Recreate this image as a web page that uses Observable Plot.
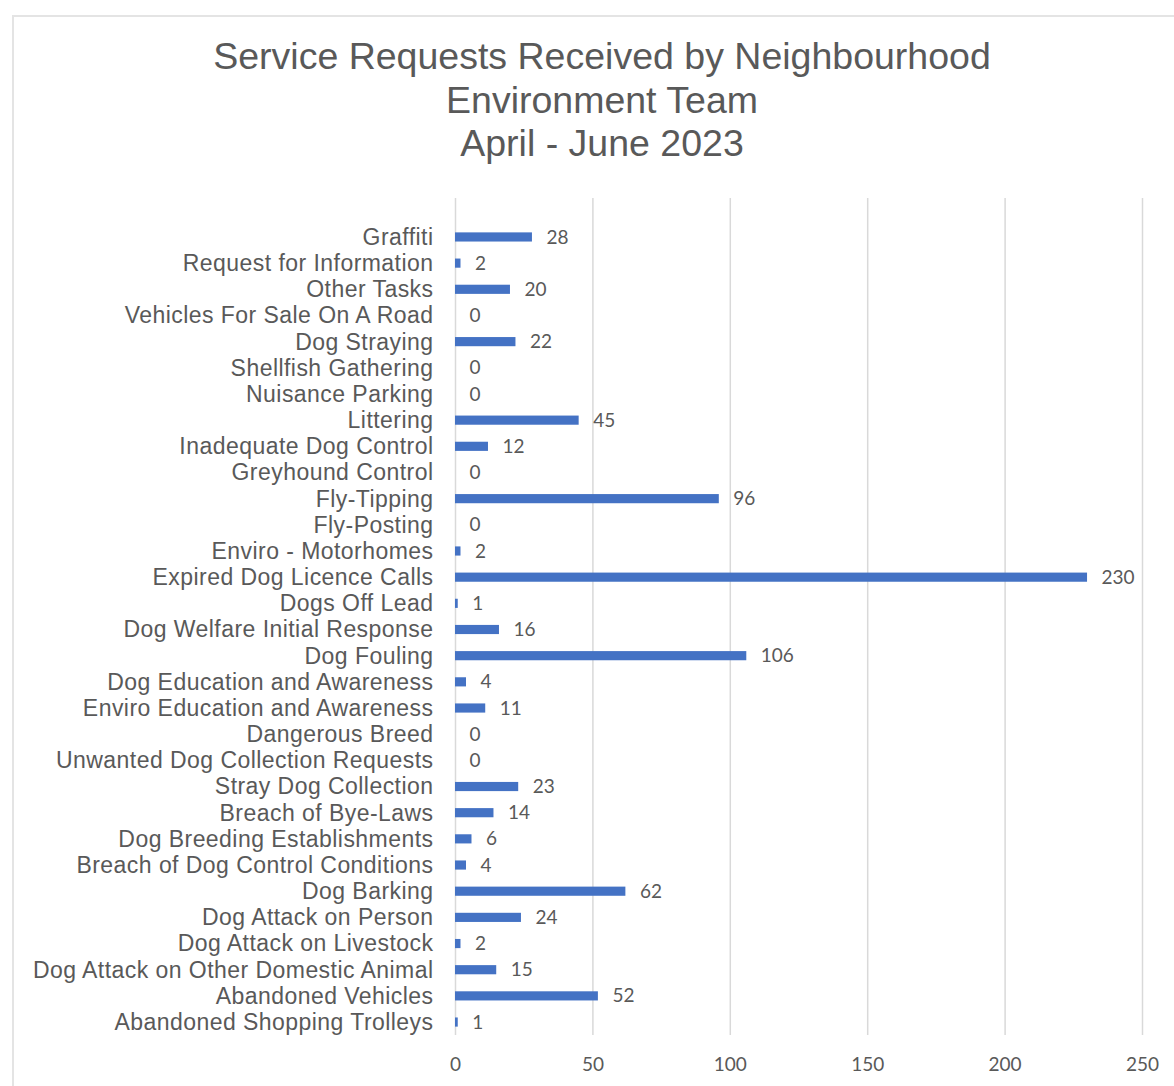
<!DOCTYPE html>
<html>
<head>
<meta charset="utf-8">
<script src="https://cdn.jsdelivr.net/npm/d3@7"></script>
<script src="https://cdn.jsdelivr.net/npm/@observablehq/plot@0.6"></script>
<style>
  html, body { margin: 0; padding: 0; background: #fff; overflow: hidden; width: 1174px; height: 1086px; }
  #frame { position: absolute; left: 12px; top: 15px; width: 1200px; height: 1100px; border: 2px solid #e4e4e4; box-sizing: border-box; }
  #wrap { position: relative; }
  #title { height: 180px; box-sizing: border-box; padding-top: 35px; text-align: center; font-family: "Liberation Sans", Arial, sans-serif; font-size: 37.5px; line-height: 43.5px; color: #595959; padding-left: 30px; }
  #chart svg { display: block; }
  #chart g[aria-label="y-axis tick label"] { letter-spacing: 0.45px; }
</style>
</head>
<body>
<div id="frame"></div>
<div id="wrap">
  <div id="title">Service Requests Received by Neighbourhood<br>Environment Team<br>April - June 2023</div>
  <div id="chart"></div>
</div>
<script>
const categories = [
  "Graffiti",
  "Request for Information",
  "Other Tasks",
  "Vehicles For Sale On A Road",
  "Dog Straying",
  "Shellfish Gathering",
  "Nuisance Parking",
  "Littering",
  "Inadequate Dog Control",
  "Greyhound Control",
  "Fly-Tipping",
  "Fly-Posting",
  "Enviro - Motorhomes",
  "Expired Dog Licence Calls",
  "Dogs Off Lead",
  "Dog Welfare Initial Response",
  "Dog Fouling",
  "Dog Education and Awareness",
  "Enviro Education and Awareness",
  "Dangerous Breed",
  "Unwanted Dog Collection Requests",
  "Stray Dog Collection",
  "Breach of Bye-Laws",
  "Dog Breeding Establishments",
  "Breach of Dog Control Conditions",
  "Dog Barking",
  "Dog Attack on Person",
  "Dog Attack on Livestock",
  "Dog Attack on Other Domestic Animal",
  "Abandoned Vehicles",
  "Abandoned Shopping Trolleys"
];
const values = [28, 2, 20, 0, 22, 0, 0, 45, 12, 0, 96, 0, 2, 230, 1, 16, 106, 4, 11, 0, 0, 23, 14, 6, 4, 62, 24, 2, 15, 52, 1];
const xTicks = [0, 50, 100, 150, 200, 250];

const data = categories.map((c, i) => ({category: c, value: values[i]}));

const chart = Plot.plot({
  width: 1174,
  height: 905,
  marginLeft: 455,
  marginRight: 32,
  marginTop: 18,
  marginBottom: 50,
  style: {fontFamily: "'Liberation Sans', Arial, sans-serif", color: "#595959", background: "transparent"},
  x: {domain: [0, 250], ticks: xTicks, label: null},
  y: {domain: categories, paddingInner: 0.65, paddingOuter: 0.32, insetTop: 26, round: false, label: null},
  marks: [
    Plot.gridX(xTicks, {stroke: "#d9d9d9", strokeOpacity: 1, strokeWidth: 1.5}),
    Plot.barX(data, {x: "value", y: "category", fill: "#4472C4"}),
    Plot.text(data, {x: "value", y: "category", text: d => String(d.value), dx: 14, textAnchor: "start", fontSize: 19, fontFamily: "Lato, 'Open Sans', sans-serif", fill: "#595959"}),
    Plot.axisY({tickSize: 0, tickPadding: 22, fontSize: 23, color: "#595959", label: null}),
    Plot.axisX(xTicks, {tickSize: 0, tickPadding: 22, fontSize: 19, fontFamily: "Lato, 'Open Sans', sans-serif", color: "#595959", label: null})
  ]
});
document.getElementById("chart").appendChild(chart);
</script>
</body>
</html>
